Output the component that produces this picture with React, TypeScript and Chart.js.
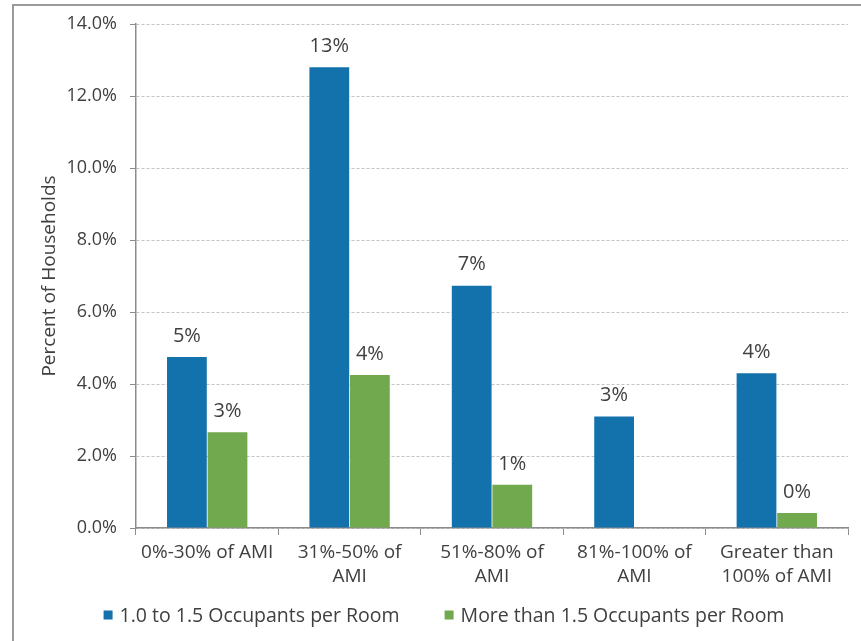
import React, { useEffect, useRef } from "react";
import { Chart, registerables } from "chart.js";

Chart.register(...registerables);

const categories: string[][] = [
  ["0%-30% of AMI"],
  ["31%-50% of", "AMI"],
  ["51%-80% of", "AMI"],
  ["81%-100% of", "AMI"],
  ["Greater than", "100% of AMI"],
];
const series1Label = "1.0 to 1.5 Occupants per Room";
const series2Label = "More than 1.5 Occupants per Room";
const series1Values: (number | null)[] = [4.75, 12.8, 6.73, 3.1, 4.3];
const series2Values: (number | null)[] = [2.66, 4.25, 1.2, null, 0.42];
const yTicks = [0, 2, 4, 6, 8, 10, 12, 14];

const BLUE = "#1372AB";
const GREEN = "#71A94E";
const FONT = "'Open Sans', 'DejaVu Sans', sans-serif";
const TEXT = "#404040";

const dataLabelPlugin = {
  id: "dataLabels",
  afterDatasetsDraw(chart: any) {
    const ctx = chart.ctx;
    ctx.save();
    ctx.font = `20px ${FONT}`;
    ctx.fillStyle = TEXT;
    ctx.textAlign = "center";
    ctx.textBaseline = "middle";
    chart.data.datasets.forEach((ds: any, di: number) => {
      const meta = chart.getDatasetMeta(di);
      meta.data.forEach((el: any, i: number) => {
        const v = ds.data[i];
        if (v === null || v === undefined) return;
        ctx.fillText(Math.round(v) + "%", el.x, el.y - 21);
      });
    });
    ctx.restore();
  },
};

const legendPlugin = {
  id: "customLegend",
  afterDraw(chart: any) {
    const ctx = chart.ctx;
    ctx.save();
    ctx.font = `19.5px ${FONT}`;
    ctx.textBaseline = "middle";
    ctx.textAlign = "left";
    const box = 9;
    const boxGap = 7;
    const itemGap = 45;
    const items = chart.data.datasets.map((ds: any) => ({
      text: ds.label,
      color: ds.backgroundColor,
      w: box + boxGap + ctx.measureText(ds.label).width,
    }));
    const total = items.reduce((a: number, b: any) => a + b.w, 0) + itemGap * (items.length - 1);
    const cy = 615;
    let x = 444 - total / 2;
    items.forEach((it: any) => {
      ctx.fillStyle = it.color;
      ctx.fillRect(x, cy - box / 2, box, box);
      ctx.fillStyle = TEXT;
      ctx.fillText(it.text, x + box + boxGap, cy + 1);
      x += it.w + itemGap;
    });
    ctx.restore();
  },
};

export default function App() {
  const ref = useRef<HTMLCanvasElement>(null);
  useEffect(() => {
    if (!ref.current) return;
    const chart = new Chart(ref.current, {
      type: "bar",
      data: {
        labels: categories,
        datasets: [
          {
            label: series1Label,
            data: series1Values,
            backgroundColor: BLUE,
            categoryPercentage: 0.57,
            barPercentage: 0.98,
          },
          {
            label: series2Label,
            data: series2Values,
            backgroundColor: GREEN,
            categoryPercentage: 0.57,
            barPercentage: 0.98,
          },
        ],
      },
      options: {
        animation: false,
        responsive: false,
        maintainAspectRatio: false,
        layout: { padding: { left: 14, right: 13, top: 24, bottom: 40 } },
        plugins: {
          legend: { display: false },
          tooltip: { enabled: false },
          title: { display: false },
        },
        scales: {
          x: {
            grid: {
              offset: true,
              drawOnChartArea: false,
              drawTicks: true,
              tickLength: 7,
              color: "#8c8c8c",
              tickColor: "#8c8c8c",
            },
            border: { color: "#8c8c8c", width: 1.5 },
            ticks: {
              color: TEXT,
              font: { family: FONT, size: 19, lineHeight: 1.3 },
              padding: 5,
              maxRotation: 0,
              autoSkip: false,
            },
            afterFit: (scale: any) => {
              scale.height = 73;
            },
          },
          y: {
            min: 0,
            max: 14,
            afterBuildTicks: (scale: any) => {
              scale.ticks = yTicks.map((v) => ({ value: v }));
            },
            grid: {
              color: "#c4c4c4",
              tickLength: 6,
              tickColor: "#8c8c8c",
              tickBorderDash: [],
              drawTicks: true,
            } as any,
            border: { color: "#8c8c8c", width: 1.5, dash: [3, 2] },
            ticks: {
              color: TEXT,
              font: { family: FONT, size: 18 },
              padding: 13,
              callback: (v: any) => Number(v).toFixed(1) + "%",
            },
            title: {
              display: true,
              text: "Percent of Households",
              color: TEXT,
              font: { family: FONT, size: 19 },
              padding: { top: 24, bottom: 0 },
            },
            afterFit: (scale: any) => {
              scale.width = 122;
            },
          },
        },
      },
      plugins: [dataLabelPlugin, legendPlugin],
    });
    return () => chart.destroy();
  }, []);

  return (
    <div style={{ position: "fixed", left: 0, top: 0, width: 861, height: 641, background: "#fff", overflow: "hidden" }}>
      <div
        style={{
          position: "absolute",
          left: 12,
          top: 4,
          width: 900,
          height: 700,
          borderLeft: "2px solid #9a9a9a",
          borderTop: "2px solid #9a9a9a",
        }}
      />
      <canvas ref={ref} width={861} height={641} style={{ position: "absolute", left: 0, top: 0 }} />
    </div>
  );
}
